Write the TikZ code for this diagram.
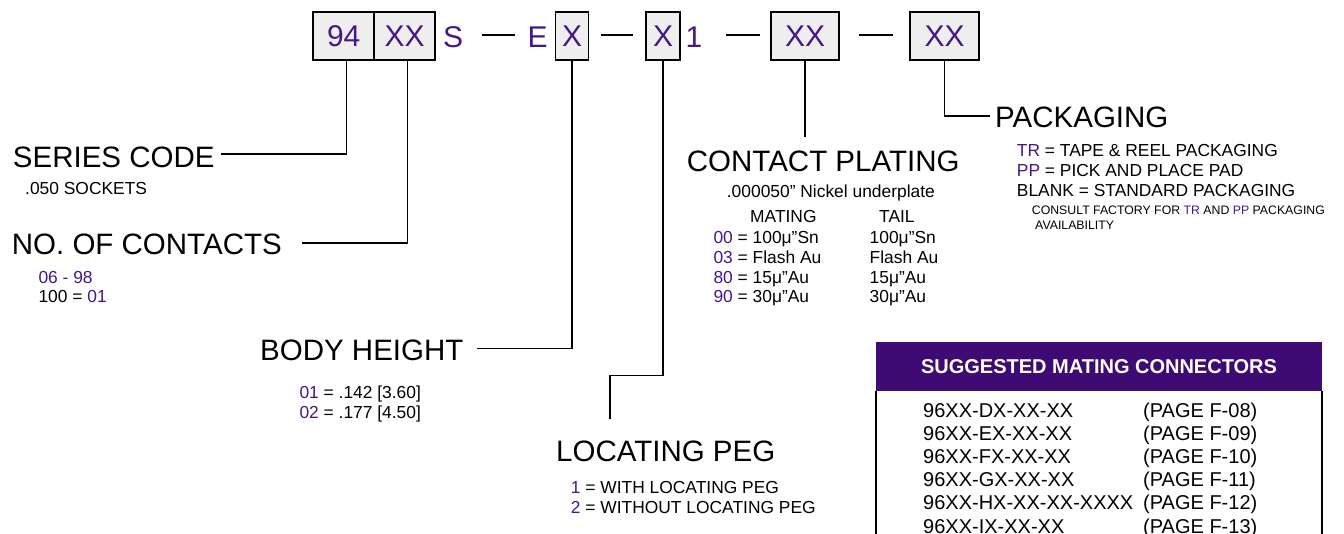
\documentclass[tikz,border=0pt]{standalone}
\usepackage{fontspec}
\setmainfont{Liberation Sans}
\usetikzlibrary{calc,positioning}
\definecolor{PartPurple}{RGB}{72,22,134}
\definecolor{PartHead}{RGB}{62,10,116}
\definecolor{PartBox}{RGB}{238,238,238}
\newcommand{\pn}[1]{\textcolor{PartPurple}{#1}}

\begin{document}
\begin{tikzpicture}[x=1pt,y=-1pt,
  codebox/.style={draw=black,line width=1.5pt,fill=PartBox,text=PartPurple,minimum height=48pt,inner sep=0pt,font=\fontsize{30}{36}\selectfont},
  codechar/.style={text=PartPurple,inner sep=0pt,anchor=base,font=\fontsize{30}{36}\selectfont},
  title/.style={anchor=base west,inner sep=0pt,font=\fontsize{29.5}{34}\selectfont},
  note/.style={anchor=base west,inner sep=0pt,font=\fontsize{17.4}{20}\selectfont},
  fine/.style={anchor=base west,inner sep=0pt,font=\fontsize{12.3}{14}\selectfont},
  row/.style={anchor=base west,inner sep=0pt,font=\fontsize{20}{23}\selectfont},
  leader/.style={line width=1.4pt}]
  \useasboundingbox (0,0) rectangle (1344,533);
  \clip (0,0) rectangle (1344,533);

  % part number
  \node[codebox,minimum width=61pt] (bxseries) at (343.7,36) {94};
  \node[codebox,minimum width=61pt] (bxcontacts) at (404.7,36) {XX};
  \node[codechar] (chs) at (453,47) {S};
  \node[codechar] (che) at (537.5,47) {E};
  \node[codebox,minimum width=33pt] (bxheight) at (572,36) {X};
  \node[codebox,minimum width=34pt] (bxpeg) at (663,36) {X};
  \node[codechar] (chone) at (694,47) {1};
  \node[codebox,minimum width=68pt] (bxplating) at (805,36) {XX};
  \node[codebox,minimum width=69pt] (bxpack) at (944.5,36) {XX};
  \foreach \a/\b in {482/515,601/633,726/760,859/893}
    \draw[line width=1.6pt] (\a,35) -- (\b,35);

  % series code
  \node[title] (series) at (12.7,167.3) {SERIES CODE};
  \node[note] (seriesnote) at (25,194) {.050 SOCKETS};
  \draw[leader] ([xshift=3pt]bxseries.south) |- ([xshift=6pt,yshift=3pt]series.east);

  % contacts
  \node[title] (contacts) at (11.7,254) {NO. OF CONTACTS};
  \node[note] (contactsa) at (38.3,283) {\pn{06 - 98}};
  \node[note] (contactsb) at (38.3,302) {100 = \pn{01}};
  \draw[leader] ([xshift=3pt]bxcontacts.south) |- ([xshift=20pt,yshift=1pt]contacts.east);

  % body height
  \node[title] (height) at (260,360.5) {BODY HEIGHT};
  \node[note] (heighta) at (299.3,398) {\pn{01} = .142 [3.60]};
  \node[note] (heightb) at (299.3,418.3) {\pn{02} = .177 [4.50]};
  \draw[leader] (bxheight.south) |- ([xshift=13pt,yshift=2pt]height.east);

  % locating peg
  \node[title] (peg) at (556,461.7) {LOCATING PEG};
  \node[note] (pega) at (570.7,493) {\pn{1} = WITH LOCATING PEG};
  \node[note] (pegb) at (570.7,513) {\pn{2} = WITHOUT LOCATING PEG};
  \coordinate (pegend) at (610,419.3);
  \draw[leader] (bxpeg.south) -- ++(0,315) -| (pegend);

  % contact plating
  \node[title] (plating) at (686.7,171.7) {CONTACT PLATING};
  \node[note] (platingnote) at (726.7,197.5) {.000050” Nickel underplate};
  \node[note] (platmate) at (750,222) {MATING};
  \node[note] (plattail) at (879,222) {TAIL};
  \foreach \c/\m/\t [count=\i from 0] in {00/100μ”Sn/100μ”Sn,03/Flash Au/Flash Au,80/15μ”Au/15μ”Au,90/30μ”Au/30μ”Au} {
    \node[note] (platrow\i) at (713.3,{243.5+19.8*\i}) {\pn{\c} = \m};
    \node[note] (plattailrow\i) at (869.5,{243.5+19.8*\i}) {\t};
  }
  \coordinate (platend) at (805,137.3);
  \draw[leader] (bxplating.south) -- (platend);

  % packaging
  \node[title] (pack) at (995,127.3) {PACKAGING};
  \node[note] (packa) at (1016.7,156) {\pn{TR} = TAPE \& REEL PACKAGING};
  \node[note] (packb) at (1016.7,176) {\pn{PP} = PICK AND PLACE PAD};
  \node[note] (packc) at (1016.7,196) {BLANK = STANDARD PACKAGING};
  \node[fine] (packd) at (1031.7,214.5) {CONSULT FACTORY FOR \pn{TR} AND \pn{PP} PACKAGING};
  \node[fine] (packe) at (1035,229.5) {AVAILABILITY};
  \draw[leader] (bxpack.south) |- ([xshift=-5pt,yshift=1pt]pack.west);

  % mating connectors table
  \node[fill=PartHead,minimum width=446pt,minimum height=49pt,inner sep=0pt,text=white,font=\bfseries\fontsize{20}{24}\selectfont] (matehead) at (1099,366.5) {SUGGESTED MATING CONNECTORS};
  \draw[line width=2pt] (matehead.south west) -- ++(0,170);
  \draw[line width=2pt] (matehead.south east) -- ++(0,170);
  \foreach \p/\g [count=\i from 0] in {96XX-DX-XX-XX/08,96XX-EX-XX-XX/09,96XX-FX-XX-XX/10,96XX-GX-XX-XX/11,96XX-HX-XX-XX-XXXX/12,96XX-IX-XX-XX/13} {
    \node[row] (mate\i) at (923,{417+23.2*\i}) {\p};
    \node[row] (page\i) at (1143,{417+23.2*\i}) {(PAGE F-\g)};
  }
\end{tikzpicture}
\end{document}
